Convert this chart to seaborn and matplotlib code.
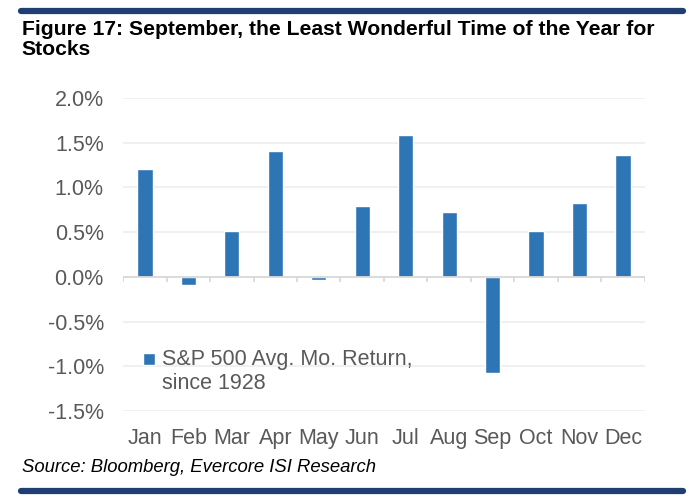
import matplotlib
matplotlib.use("Agg")
import matplotlib.pyplot as plt
import seaborn as sns
import pandas as pd
from matplotlib.ticker import FuncFormatter

months = ["Jan", "Feb", "Mar", "Apr", "May", "Jun", "Jul", "Aug", "Sep", "Oct", "Nov", "Dec"]
avg_return = [1.21, -0.09, 0.51, 1.41, -0.04, 0.79, 1.59, 0.73, -1.07, 0.51, 0.83, 1.36]
y_ticks = [-1.5, -1.0, -0.5, 0.0, 0.5, 1.0, 1.5, 2.0]

series_label = "S&P 500 Avg. Mo. Return,\nsince 1928"
title = "Figure 17: September, the Least Wonderful Time of the Year for\nStocks"
source = "Source: Bloomberg, Evercore ISI Research"

bar_color = "#2E75B6"
rule_color = "#1F3F73"
text_gray = "#595959"

sns.set_style("white")
plt.rcParams["font.family"] = ["Liberation Sans", "DejaVu Sans"]

df = pd.DataFrame({"month": months, "ret": avg_return})

fig = plt.figure(figsize=(7, 5.04), dpi=100)
ax = fig.add_axes([0.176, 0.1845, 0.745, 0.621])

sns.barplot(data=df, x="month", y="ret", color=bar_color, width=0.35,
            saturation=1, label=series_label, ax=ax)

ax.set_ylim(-1.5, 2.0)
ax.set_xlim(-0.5, len(months) - 0.5)
ax.set_yticks(y_ticks)
ax.yaxis.set_major_formatter(FuncFormatter(lambda v, p: f"{v:.1f}%"))
ax.grid(axis="y", color="#EDEDED", linewidth=1.2)
ax.set_axisbelow(True)
for s in ax.spines.values():
    s.set_visible(False)
ax.tick_params(axis="both", length=0, labelsize=15.5, labelcolor=text_gray)
ax.tick_params(axis="y", pad=14)
ax.tick_params(axis="x", pad=12)
ax.set_xlabel("")
ax.set_ylabel("")

# zero line with category separators
ax.axhline(0, color="#D9D9D9", linewidth=1.3, zorder=1)
bounds = [i - 0.5 for i in range(len(months) + 1)]
ax.vlines(bounds, -0.06, 0, color="#D9D9D9", linewidth=1.3, zorder=1)

leg = ax.legend(loc="upper left", bbox_to_anchor=(0.022, 0.225), frameon=False,
                fontsize=15.5, labelcolor=text_gray, handlelength=0.55, handleheight=0.55,
                handletextpad=0.3, borderaxespad=0, labelspacing=0.2)
# put the square next to the first line of the label, not the middle
for h in leg.legend_handles:
    h.set_y(h.get_y() + 9.5)

fig.text(0.031, 0.96, title, fontsize=15.2, fontweight="bold", va="top", ha="left",
         linespacing=1.05, color="black")
fig.text(0.031, 0.073, source, fontsize=13.3, style="italic", va="center", ha="left",
         color="black")

fig.add_artist(plt.Line2D([0.03, 0.975], [0.978, 0.978], color=rule_color, linewidth=4.5))
fig.add_artist(plt.Line2D([0.03, 0.975], [0.025, 0.025], color=rule_color, linewidth=4.5))

fig.savefig("out.png", dpi=100)
